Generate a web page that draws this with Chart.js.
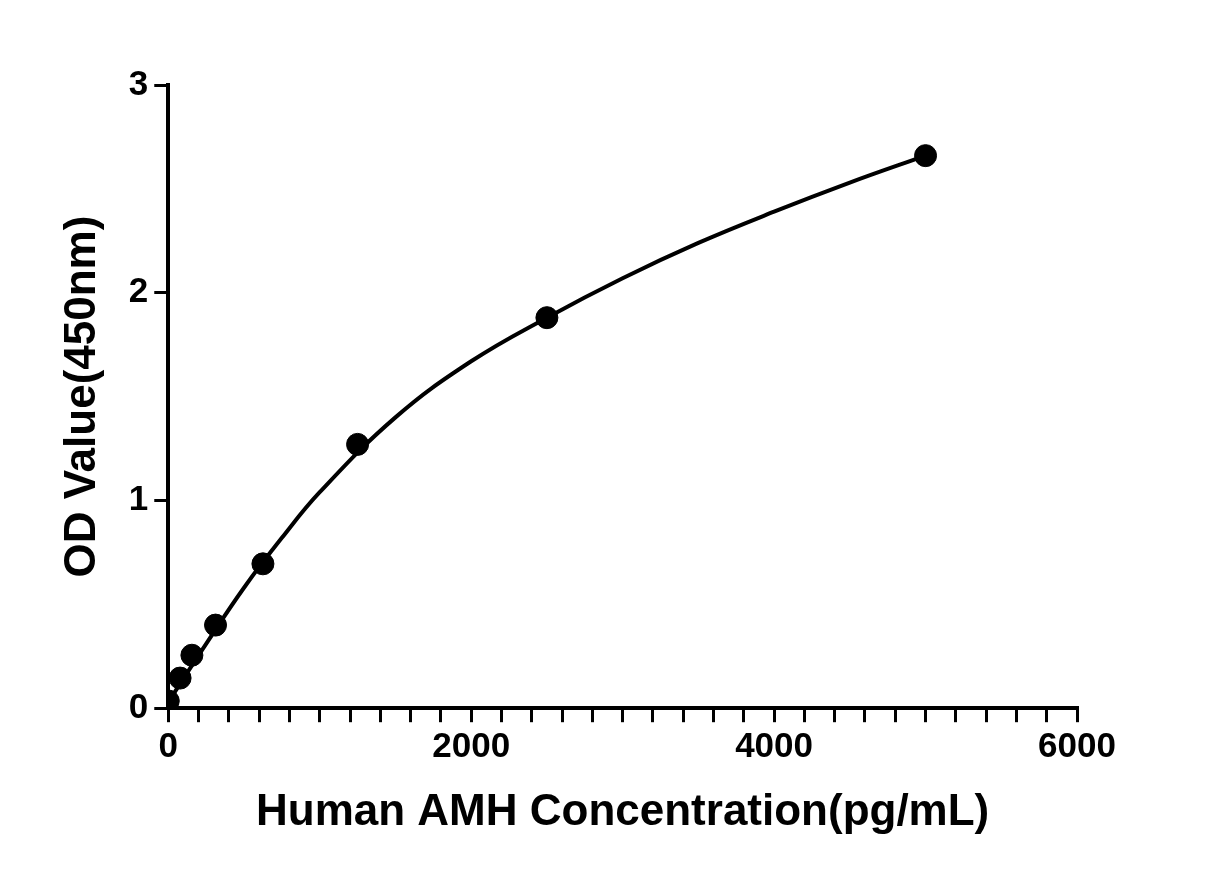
<!DOCTYPE html>
<html><head><script src="https://cdn.jsdelivr.net/npm/chart.js"></script>
<style>body{margin:0;background:#fff}#w{width:1214px;height:888px}</style></head>
<body><div id="w"><canvas id="c"></canvas></div>
<script>
const concX=[0,78,156,312,625,1250,2500,5000];
const odY=[0.035,0.145,0.255,0.40,0.695,1.27,1.88,2.66];
const curveX=[0,250,500,750,1000,1500,2000,2500,3000,3500,4000,4500,5000];
const curveY=[0.03,0.31,0.58,0.82,1.04,1.40,1.67,1.88,2.07,2.24,2.39,2.53,2.66];
const xMajor=[0,2000,4000,6000];
const yMajor=[0,1,2,3];
const F="'Liberation Sans', Arial, sans-serif";
new Chart(document.getElementById('c'),{
 type:'scatter',
 data:{datasets:[
  {data:curveX.map((x,i)=>({x,y:curveY[i]})),showLine:true,borderColor:'#000',borderWidth:4,pointRadius:0,tension:0.4,fill:false},
  {data:concX.map((x,i)=>({x,y:odY[i]})),backgroundColor:'#000',borderColor:'#000',pointRadius:11,showLine:false}
 ]},
 options:{responsive:true,maintainAspectRatio:false,animation:false,
  layout:{padding:{left:52,right:137,top:85,bottom:45}},
  plugins:{legend:{display:false},tooltip:{enabled:false}},
  scales:{
   x:{type:'linear',min:0,max:6000,
    afterBuildTicks:a=>{const t=[];for(let v=0;v<=6000;v+=200)t.push({value:v});a.ticks=t;},
    ticks:{autoSkip:false,maxRotation:0,color:'#000',font:{family:F,size:35,weight:'bold'},padding:4,
      callback:v=>xMajor.includes(v)?String(v):''},
    grid:{display:true,drawOnChartArea:false,color:'#000',lineWidth:3,tickLength:14,tickColor:'#000'},
    border:{color:'#000',width:4},
    title:{display:true,text:'Human AMH Concentration(pg/mL)',color:'#000',font:{family:F,size:44,weight:'bold'},padding:{top:14}}},
   y:{min:0,max:3,
    afterBuildTicks:a=>{a.ticks=yMajor.map(v=>({value:v}));},
    ticks:{color:'#000',font:{family:F,size:35,weight:'bold'},padding:6},
    grid:{display:true,drawOnChartArea:false,color:'#000',lineWidth:3,tickLength:14,tickColor:'#000'},
    border:{color:'#000',width:4},
    title:{display:true,text:'OD Value(450nm)',color:'#000',font:{family:F,size:44,weight:'bold'},padding:{bottom:14}}}
  }}
});
</script></body></html>
